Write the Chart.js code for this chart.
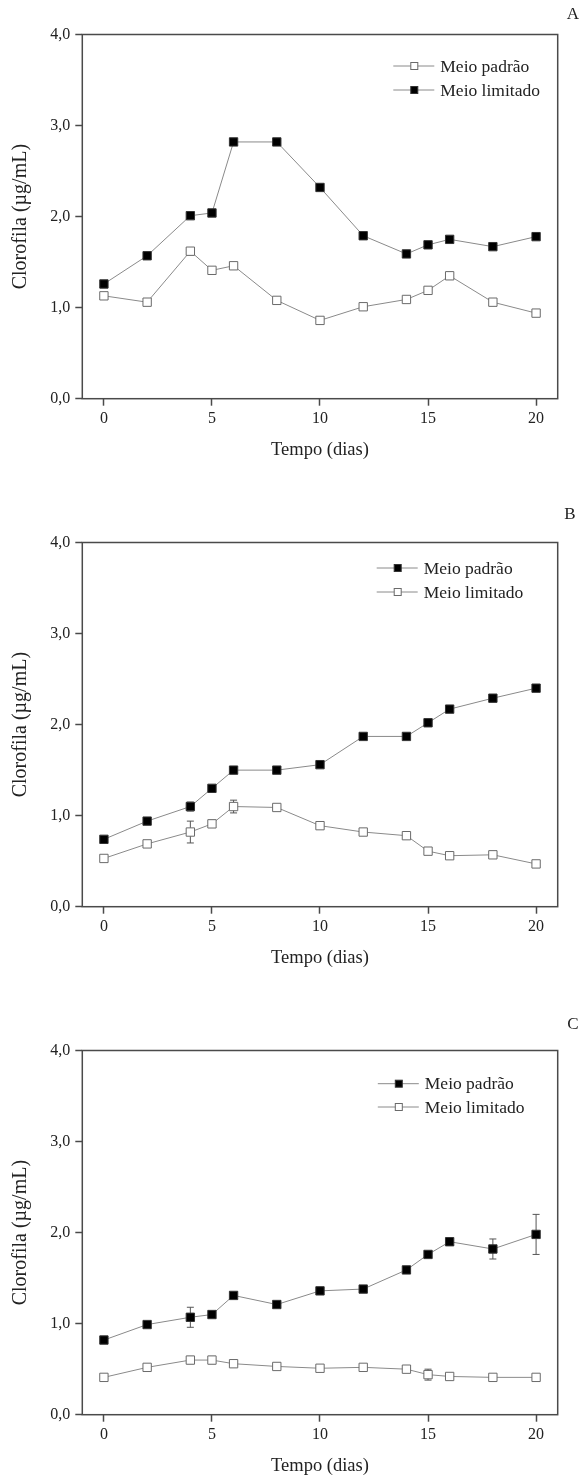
<!DOCTYPE html>
<html>
<head>
<meta charset="utf-8">
<script src="https://cdn.jsdelivr.net/npm/chart.js@4.4.0/dist/chart.umd.min.js"></script>
<style>
body { margin:0; background:#fff; width:581px; height:1478px; overflow:hidden; position:relative; }
canvas { position:absolute; left:0; }
</style>
</head>
<body>
<canvas id="chartA" width="581" height="472" style="top:-10px"></canvas>
<canvas id="chartB" width="581" height="472" style="top:498px"></canvas>
<canvas id="chartC" width="581" height="472" style="top:1006px"></canvas>
<script>
const days = [0, 2, 4, 5, 6, 8, 10, 12, 14, 15, 16, 18, 20];
const xTickValues = [0, 5, 10, 15, 20];
const yTickValues = [0, 1, 2, 3, 4];
const yTickLabels = ['0,0', '1,0', '2,0', '3,0', '4,0'];
const seriesNames = ['Meio padrão', 'Meio limitado'];

// painel A
const padraoA = [1.13, 1.06, 1.62, 1.41, 1.46, 1.08, 0.86, 1.01, 1.09, 1.19, 1.35, 1.06, 0.94];
const padraoAErr = [0, 0, 0.04, 0, 0.03, 0.03, 0, 0.03, 0, 0, 0.04, 0, 0];
const limitadoA = [1.26, 1.57, 2.01, 2.04, 2.82, 2.82, 2.32, 1.79, 1.59, 1.69, 1.75, 1.67, 1.78];
const limitadoAErr = [0, 0, 0, 0, 0, 0, 0, 0, 0, 0, 0, 0, 0];

// painel B
const padraoB = [0.74, 0.94, 1.10, 1.30, 1.50, 1.50, 1.56, 1.87, 1.87, 2.02, 2.17, 2.29, 2.40];
const padraoBErr = [0, 0, 0.05, 0, 0, 0, 0, 0, 0, 0, 0, 0.04, 0];
const limitadoB = [0.53, 0.69, 0.82, 0.91, 1.10, 1.09, 0.89, 0.82, 0.78, 0.61, 0.56, 0.57, 0.47];
const limitadoBErr = [0.03, 0.03, 0.12, 0.04, 0.07, 0.03, 0.03, 0.03, 0, 0.03, 0.03, 0.03, 0.02];

// painel C
const padraoC = [0.82, 0.99, 1.07, 1.10, 1.31, 1.21, 1.36, 1.38, 1.59, 1.76, 1.90, 1.82, 1.98];
const padraoCErr = [0, 0, 0.11, 0, 0, 0, 0, 0, 0, 0, 0, 0.11, 0.22];
const limitadoC = [0.41, 0.52, 0.60, 0.60, 0.56, 0.53, 0.51, 0.52, 0.50, 0.44, 0.42, 0.41, 0.41];
const limitadoCErr = [0, 0.03, 0.04, 0.04, 0, 0.03, 0, 0.03, 0.03, 0.06, 0, 0, 0];

const serif = 'Liberation Serif';
const lineGray = '#8a8a8a';
const axisColor = '#4a4a4a';

const openStyle = { pointBackgroundColor: '#fff', pointBorderColor: '#6a6a6a' };
const filledStyle = { pointBackgroundColor: '#000', pointBorderColor: '#333' };

function makeDataset(label, values, errors, style) {
    return {
        label: label,
        data: days.map((d, i) => ({ x: d, y: values[i] })),
        errors: errors,
        borderColor: lineGray,
        borderWidth: 1,
        pointStyle: 'rect',
        pointRadius: 5.9,
        pointBorderWidth: 1,
        pointBackgroundColor: style.pointBackgroundColor,
        pointBorderColor: style.pointBorderColor,
        tension: 0,
        fill: false
    };
}

const errorBars = {
    id: 'errorBars',
    beforeDatasetsDraw(chart) {
        const ctx = chart.ctx;
        const ys = chart.scales.y;
        ctx.save();
        ctx.strokeStyle = '#555';
        ctx.lineWidth = 1;
        chart.data.datasets.forEach((ds, di) => {
            const meta = chart.getDatasetMeta(di);
            (ds.errors || []).forEach((e, i) => {
                if (!e) return;
                const px = meta.data[i].x;
                const top = ys.getPixelForValue(ds.data[i].y + e);
                const bot = ys.getPixelForValue(ds.data[i].y - e);
                ctx.beginPath();
                ctx.moveTo(px, top); ctx.lineTo(px, bot);
                ctx.moveTo(px - 3.5, top); ctx.lineTo(px + 3.5, top);
                ctx.moveTo(px - 3.5, bot); ctx.lineTo(px + 3.5, bot);
                ctx.stroke();
            });
        });
        ctx.restore();
    }
};

const frameBox = {
    id: 'frameBox',
    afterDraw(chart) {
        const a = chart.chartArea;
        const ctx = chart.ctx;
        ctx.save();
        ctx.strokeStyle = axisColor;
        ctx.lineWidth = 1.5;
        ctx.strokeRect(a.left, a.top, a.right - a.left, a.bottom - a.top);
        ctx.restore();
    }
};

const innerLegend = {
    id: 'innerLegend',
    afterDraw(chart, args, opts) {
        const ctx = chart.ctx;
        ctx.save();
        ctx.font = '17.5px "' + serif + '"';
        ctx.textBaseline = 'middle';
        chart.data.datasets.forEach((ds, i) => {
            const y = opts.rows[i];
            const x0 = opts.x;
            ctx.strokeStyle = lineGray;
            ctx.lineWidth = 1;
            ctx.beginPath();
            ctx.moveTo(x0, y); ctx.lineTo(x0 + 41, y);
            ctx.stroke();
            ctx.fillStyle = ds.pointBackgroundColor;
            ctx.strokeStyle = ds.pointBorderColor;
            ctx.fillRect(x0 + 17.5, y - 3.5, 7, 7);
            ctx.strokeRect(x0 + 17.5, y - 3.5, 7, 7);
            ctx.fillStyle = '#222';
            ctx.fillText(ds.label, x0 + 47, y + 1);
        });
        ctx.font = '17px "' + serif + '"';
        ctx.fillStyle = '#222';
        ctx.textAlign = 'center';
        ctx.fillText(opts.letter, opts.letterX, opts.letterY);
        ctx.restore();
    }
};

function renderPanel(id, datasets, legendOpts) {
    return new Chart(document.getElementById(id), {
        type: 'line',
        data: { datasets: datasets },
        plugins: [errorBars, frameBox, innerLegend],
        options: {
            responsive: false,
            animation: false,
            devicePixelRatio: 1,
            layout: { padding: { top: 44.5, right: 23.3, left: 0, bottom: 0 } },
            plugins: {
                legend: { display: false },
                tooltip: { enabled: false },
                innerLegend: legendOpts
            },
            scales: {
                x: {
                    type: 'linear',
                    min: -1,
                    max: 21,
                    afterBuildTicks: (axis) => { axis.ticks = xTickValues.map(v => ({ value: v })); },
                    afterFit: (axis) => { axis.height = 63.3; },
                    border: { display: false },
                    grid: { drawOnChartArea: false, tickLength: 7, tickColor: axisColor, tickWidth: 1.5 },
                    ticks: { font: { family: serif, size: 16 }, color: '#222', padding: 3 },
                    title: {
                        display: true,
                        text: 'Tempo (dias)',
                        font: { family: serif, size: 18.5 },
                        color: '#222',
                        padding: { top: 0, bottom: 0.9 }
                    }
                },
                y: {
                    min: 0,
                    max: 4,
                    afterBuildTicks: (axis) => { axis.ticks = yTickValues.map(v => ({ value: v })); },
                    afterFit: (axis) => { axis.width = 82.3; },
                    border: { display: false },
                    grid: { drawOnChartArea: false, tickLength: 7, tickColor: axisColor, tickWidth: 1.5 },
                    ticks: {
                        font: { family: serif, size: 16 },
                        color: '#222',
                        padding: 5,
                        callback: (v) => yTickLabels[yTickValues.indexOf(v)]
                    },
                    title: {
                        display: true,
                        text: 'Clorofila (µg/mL)',
                        font: { family: serif, size: 20 },
                        color: '#222',
                        padding: { top: 9, bottom: 0 }
                    }
                }
            }
        }
    });
}

renderPanel('chartA', [
    makeDataset(seriesNames[0], padraoA, padraoAErr, openStyle),
    makeDataset(seriesNames[1], limitadoA, limitadoAErr, filledStyle)
], { x: 393.3, rows: [76, 100], letter: 'A', letterX: 573, letterY: 25 });

renderPanel('chartB', [
    makeDataset(seriesNames[0], padraoB, padraoBErr, filledStyle),
    makeDataset(seriesNames[1], limitadoB, limitadoBErr, openStyle)
], { x: 376.7, rows: [70, 94], letter: 'B', letterX: 570, letterY: 17 });

renderPanel('chartC', [
    makeDataset(seriesNames[0], padraoC, padraoCErr, filledStyle),
    makeDataset(seriesNames[1], limitadoC, limitadoCErr, openStyle)
], { x: 377.8, rows: [77.7, 101], letter: 'C', letterX: 573, letterY: 19 });
</script>
</body>
</html>
